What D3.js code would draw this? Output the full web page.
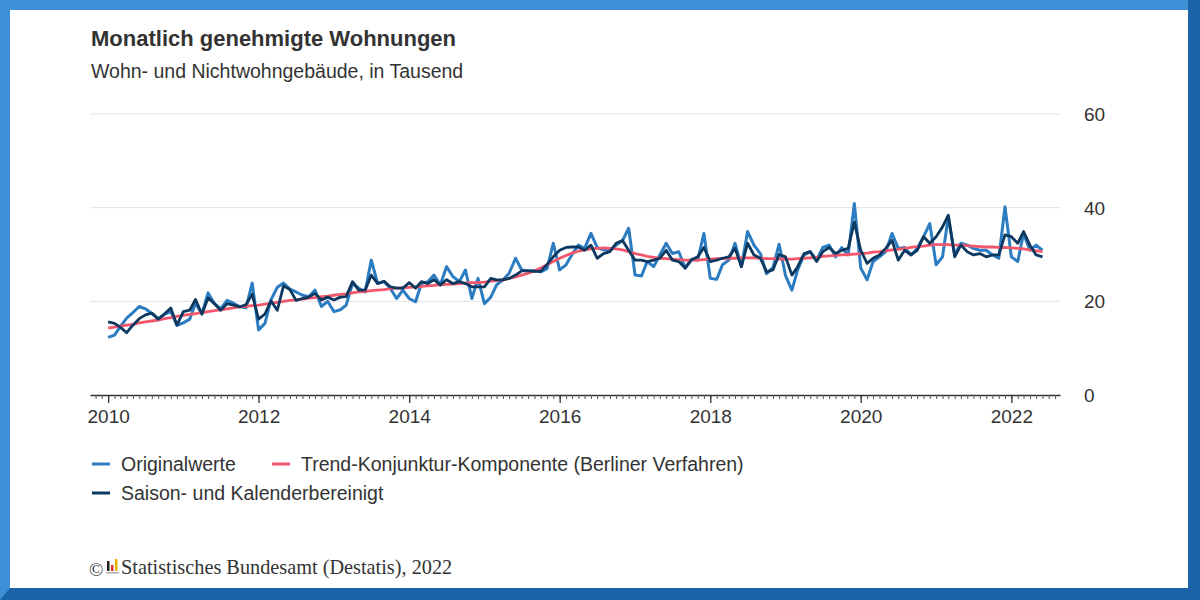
<!DOCTYPE html>
<html>
<head>
<meta charset="utf-8">
<script src="https://cdn.jsdelivr.net/npm/d3@7"></script>
<style>
  html, body { margin: 0; padding: 0; background: #fff; }
  svg { display: block; }
  text { font-family: "Liberation Sans", Arial, sans-serif; fill: #333; }
</style>
</head>
<body>
<div id="graph"></div>
<script>
// Monatswerte ab Januar 2010 (in Tausend Wohnungen)
var firstYear = 2010;
var yearTicks = [2010, 2012, 2014, 2016, 2018, 2020, 2022];
var valueTicks = [0, 20, 40, 60];

var originalwerte = [
  12.3, 12.8, 14.6, 16.4, 17.6, 18.9, 18.4, 17.4, 16.3, 17.2, 17.8, 14.9,
  15.4, 16.2, 19.6, 17.3, 21.8, 19.5, 18.4, 20.2, 19.6, 18.9, 18.6, 23.9,
  13.9, 15.3, 20.3, 23.0, 23.9, 22.6, 22.0, 21.3, 21.0, 22.4, 18.9, 20.0,
  17.8, 18.2, 19.2, 23.8, 22.8, 22.0, 28.8, 23.8, 24.2, 22.8, 20.6, 22.4,
  20.6, 19.9, 23.8, 24.2, 25.6, 23.5, 27.4, 25.3, 24.2, 26.7, 20.6, 24.9,
  19.5, 20.9, 23.5, 24.6, 26.0, 29.2, 26.7, 26.5, 26.6, 26.3, 27.0, 32.4,
  26.7, 27.8, 30.0, 32.0, 31.3, 34.5, 31.5, 31.0, 30.9, 32.0, 33.0, 35.6,
  25.6, 25.4, 28.5, 27.4, 29.9, 32.4, 30.2, 30.6, 27.1, 29.0, 28.8, 34.5,
  24.9, 24.7, 27.8, 28.8, 32.4, 27.4, 34.9, 32.0, 30.2, 25.9, 27.2, 32.2,
  25.5, 22.4, 26.7, 29.9, 30.6, 28.8, 31.5, 32.0, 29.5, 31.5, 29.9, 40.9,
  27.1, 24.6, 28.5, 29.5, 30.6, 34.5, 31.3, 31.5, 29.9, 31.3, 33.8, 36.6,
  27.8, 29.5, 38.1, 29.9, 32.4, 32.0, 31.3, 30.9, 30.9, 29.9, 29.2, 40.2,
  29.5, 28.5, 34.5, 30.9, 32.0, 30.9
];

var trendKomponente = [
  14.3, 14.5, 14.7, 14.9, 15.1, 15.4, 15.6, 15.8, 16.0, 16.3, 16.5, 16.8,
  17.0, 17.2, 17.4, 17.6, 17.8, 18.0, 18.2, 18.4, 18.6, 18.8, 18.9, 19.1,
  19.2, 19.4, 19.6, 19.8, 20.0, 20.2, 20.3, 20.5, 20.7, 20.8, 21.0, 21.1,
  21.3, 21.5, 21.6, 21.8, 22.0, 22.1, 22.3, 22.4, 22.5, 22.7, 22.8, 22.9,
  23.0, 23.1, 23.2, 23.3, 23.4, 23.5, 23.6, 23.7, 23.8, 23.9, 24.0, 24.0,
  24.1, 24.3, 24.4, 24.6, 24.9, 25.2, 25.6, 26.0, 26.5, 27.1, 27.8, 28.5,
  29.2, 29.8, 30.3, 30.7, 31.0, 31.2, 31.3, 31.4, 31.3, 31.2, 31.0, 30.6,
  30.2, 29.9, 29.6, 29.4, 29.2, 29.1, 29.0, 28.9, 28.8, 28.8, 28.8, 28.9,
  29.0, 29.1, 29.1, 29.2, 29.2, 29.3, 29.3, 29.3, 29.2, 29.1, 29.1, 29.0,
  29.0, 29.0, 29.1, 29.2, 29.3, 29.4, 29.6, 29.7, 29.8, 29.9, 30.0, 30.1,
  30.2, 30.3, 30.5, 30.6, 30.8, 31.0, 31.1, 31.3, 31.5, 31.7, 31.8, 32.0,
  32.1, 32.1, 32.1, 32.0, 32.0, 31.9, 31.8, 31.7, 31.6, 31.6, 31.5, 31.5,
  31.4, 31.3, 31.2, 31.0, 30.8, 30.6
];

var saisonbereinigt = [
  15.6, 15.3, 14.5, 13.3, 14.9, 16.3, 17.1, 17.5, 16.2, 17.3, 18.6, 14.9,
  17.8, 18.1, 20.4, 17.3, 20.7, 19.5, 18.1, 19.5, 19.2, 18.8, 19.3, 21.5,
  16.2, 17.3, 20.1, 18.1, 23.3, 22.5, 20.2, 20.6, 20.9, 21.7, 20.3, 20.9,
  20.3, 20.9, 21.0, 24.2, 22.4, 22.4, 25.6, 23.8, 24.3, 23.1, 22.8, 22.8,
  24.0, 22.8, 24.2, 23.8, 24.6, 23.5, 24.6, 23.8, 24.2, 23.8, 23.1, 23.1,
  23.1, 24.9, 24.6, 24.6, 24.9, 25.6, 26.5, 26.5, 26.4, 26.4, 27.9, 29.5,
  30.9, 31.5, 31.6, 31.6, 30.9, 32.0, 29.2, 30.2, 30.6, 32.4, 33.0, 30.9,
  28.8, 28.8, 28.5, 28.8, 29.2, 30.9, 28.8, 28.5, 27.1, 28.8, 29.5, 31.5,
  28.5, 28.8, 29.2, 29.5, 31.3, 27.4, 32.4, 29.9, 29.2, 26.3, 26.7, 30.0,
  29.5, 25.6, 27.4, 30.2, 30.6, 28.5, 30.6, 31.5, 30.2, 30.9, 31.3, 36.9,
  30.9, 28.1, 29.2, 29.9, 31.3, 33.0, 28.8, 30.9, 29.9, 30.9, 33.8, 32.4,
  33.8, 35.9, 38.4, 29.5, 32.0, 30.6, 29.9, 30.2, 29.5, 29.9, 29.9, 34.2,
  33.8, 32.4, 34.9, 32.0, 29.9, 29.5
];

var seriesNames = ["Originalwerte", "Trend-Konjunktur-Komponente (Berliner Verfahren)", "Saison- und Kalenderbereinigt"];
var seriesColors = ["#2b7cc0", "#f2576c", "#0d3860"];

var W = 1200, H = 600;
var svg = d3.select("#graph").append("svg").attr("width", W).attr("height", H);

// Rahmen
svg.append("rect").attr("width", W).attr("height", H).attr("fill", "#3f8fd8");
svg.append("path")
  .attr("d", "M1188,0 L1200,0 L1200,600 L0,600 L10,588 L1188,588 Z")
  .attr("fill", "#1b63a8");
svg.append("rect").attr("x", 10).attr("y", 10).attr("width", 1178).attr("height", 578).attr("fill", "#fff");

// Titel
svg.append("text").attr("x", 91).attr("y", 46)
  .style("font-size", "22px").style("font-weight", "bold").text("Monatlich genehmigte Wohnungen");
svg.append("text").attr("x", 91).attr("y", 78)
  .style("font-size", "19.5px").text("Wohn- und Nichtwohngebäude, in Tausend");

var monthDate = function(i) { return new Date(firstYear, i, 1); };

var x = d3.scaleTime()
  .domain([new Date(2009, 9, 5), new Date(2022, 7, 25)])
  .range([90, 1060]);
var y = d3.scaleLinear().domain([0, 60]).range([395, 114]);

// Gitterlinien
svg.append("g").selectAll("line")
  .data(valueTicks.filter(function(v) { return v > 0; }))
  .enter().append("line")
  .attr("x1", 90).attr("x2", 1060)
  .attr("y1", function(d) { return y(d); }).attr("y2", function(d) { return y(d); })
  .attr("stroke", "#e3e3e3").attr("stroke-width", 1);

// y Beschriftung rechts
svg.append("g").selectAll("text")
  .data(valueTicks).enter().append("text")
  .attr("x", 1084).attr("y", function(d) { return y(d) + 7; })
  .style("font-size", "19px")
  .text(function(d) { return d; });

// x Achse: Monatsstriche + Jahre
var minorAxis = d3.axisBottom(x)
  .ticks(d3.timeMonth.every(1))
  .tickSize(4).tickSizeOuter(0)
  .tickFormat("");
var gMinor = svg.append("g").attr("transform", "translate(0,395)").call(minorAxis);
gMinor.select(".domain").attr("stroke", "#333").attr("stroke-width", 1.3);
gMinor.selectAll(".tick line").attr("stroke", "#555");

var majorAxis = d3.axisBottom(x)
  .tickValues(yearTicks.map(function(yr) { return new Date(yr, 0, 1); }))
  .tickSize(8).tickSizeOuter(0).tickPadding(7)
  .tickFormat(d3.timeFormat("%Y"));
var gMajor = svg.append("g").attr("transform", "translate(0,395)").call(majorAxis);
gMajor.select(".domain").remove();
gMajor.selectAll(".tick line").attr("stroke", "#333").attr("stroke-width", 1.3);
gMajor.selectAll("text").style("font-size", "19px").attr("fill", "#333")
  .style("font-family", "'Liberation Sans', Arial, sans-serif");

// Linien
var line = d3.line()
  .x(function(d, i) { return x(monthDate(i)); })
  .y(function(d) { return y(d); });

var allSeries = [originalwerte, trendKomponente, saisonbereinigt];
var widths = [3, 2.8, 2.8];
allSeries.forEach(function(s, k) {
  svg.append("path")
    .attr("d", line(s))
    .attr("fill", "none")
    .attr("stroke", seriesColors[k])
    .attr("stroke-width", widths[k])
    .attr("stroke-linejoin", "round");
});

// Legende
var legendPos = [[92, 464], [272, 464], [92, 493]];
var legend = svg.append("g").attr("class", "legend");
legend.selectAll("line").data(seriesNames).enter().append("line")
  .attr("x1", function(d, i) { return legendPos[i][0]; })
  .attr("x2", function(d, i) { return legendPos[i][0] + 18; })
  .attr("y1", function(d, i) { return legendPos[i][1]; })
  .attr("y2", function(d, i) { return legendPos[i][1]; })
  .attr("stroke", function(d, i) { return seriesColors[i]; })
  .attr("stroke-width", 3);
legend.selectAll("text").data(seriesNames).enter().append("text")
  .attr("x", function(d, i) { return legendPos[i][0] + 29; })
  .attr("y", function(d, i) { return legendPos[i][1] + 7; })
  .style("font-size", "19.5px")
  .text(function(d) { return d; });

// Quelle
var foot = svg.append("g");
foot.append("text").attr("x", 89).attr("y", 576)
  .style("font-family", "'Liberation Serif', 'Times New Roman', serif")
  .style("font-size", "19px").attr("fill", "#444").text("©");
foot.append("rect").attr("x", 107).attr("y", 561).attr("width", 2.5).attr("height", 10).attr("fill", "#222");
foot.append("rect").attr("x", 111).attr("y", 565).attr("width", 2.5).attr("height", 6).attr("fill", "#d33");
foot.append("rect").attr("x", 115).attr("y", 559).attr("width", 2.5).attr("height", 12).attr("fill", "#e8b400");
foot.append("rect").attr("x", 106).attr("y", 572).attr("width", 13).attr("height", 1.5).attr("fill", "#aaa");
foot.append("text").attr("x", 121).attr("y", 574)
  .style("font-family", "'Liberation Serif', 'Times New Roman', serif")
  .style("font-size", "20.3px").attr("fill", "#333")
  .text("Statistisches Bundesamt (Destatis), 2022");
</script>
</body>
</html>
